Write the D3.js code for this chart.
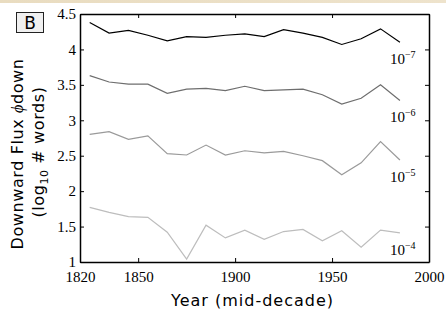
<!DOCTYPE html>
<html>
<head>
<meta charset="utf-8">
<script src="https://cdn.jsdelivr.net/npm/d3@7"></script>
<style>
  html, body { margin: 0; padding: 0; background: #fff; }
  .axis path, .axis line { stroke: #000; }
  .axis text { font-family: "Liberation Serif", serif; font-size: 15px; fill: #000; }
</style>
</head>
<body>
<div id="chart"></div>
<script>
// decade midpoints
var years = [1825, 1835, 1845, 1855, 1865, 1875, 1885, 1895, 1905, 1915, 1925, 1935, 1945, 1955, 1965, 1975, 1985];

// log10 of downward flux for each threshold
var flux7 = [4.38, 4.23, 4.27, 4.20, 4.12, 4.18, 4.17, 4.20, 4.22, 4.18, 4.28, 4.23, 4.17, 4.07, 4.15, 4.29, 4.10];
var flux6 = [3.63, 3.54, 3.51, 3.51, 3.38, 3.44, 3.45, 3.42, 3.48, 3.42, 3.43, 3.44, 3.36, 3.23, 3.31, 3.50, 3.28];
var flux5 = [2.80, 2.84, 2.73, 2.78, 2.53, 2.51, 2.65, 2.51, 2.57, 2.54, 2.56, 2.50, 2.43, 2.23, 2.40, 2.70, 2.44];
var flux4 = [1.77, 1.70, 1.64, 1.63, 1.42, 1.04, 1.52, 1.34, 1.45, 1.32, 1.43, 1.46, 1.30, 1.44, 1.21, 1.45, 1.41];

var seriesExp = ["\u22127", "\u22126", "\u22125", "\u22124"];
var seriesColors = ["#000000", "#6e6e6e", "#9a9a9a", "#bdbdbd"];

var xTicks = [1820, 1850, 1900, 1950, 2000];
var yTicks = [1, 1.5, 2, 2.5, 3, 3.5, 4, 4.5];

var W = 446, H = 320;
var margin = {top: 14, right: 17, bottom: 58, left: 80},
    width = W - margin.left - margin.right,
    height = H - margin.top - margin.bottom;

var svg = d3.select("#chart").append("svg")
    .attr("width", W)
    .attr("height", H);

// beige strip along the top edge
var grad = svg.append("defs").append("linearGradient")
    .attr("id", "strip").attr("x1", 0).attr("x2", 1);
grad.append("stop").attr("offset", "0%").attr("stop-color", "#e9dcc0");
grad.append("stop").attr("offset", "100%").attr("stop-color", "#eee3cc");
svg.append("rect").attr("x", 0).attr("y", 0).attr("width", W).attr("height", 3)
    .attr("fill", "url(#strip)");

var g = svg.append("g")
    .attr("transform", "translate(" + margin.left + "," + margin.top + ")");

var xScale = d3.scaleLinear().domain([1820, 2000]).range([0, width]);
var yScale = d3.scaleLinear().domain([1, 4.5]).range([height, 0]);

var line = d3.line()
    .x(function(d) { return xScale(d.year); })
    .y(function(d) { return yScale(d.value); });

[flux7, flux6, flux5, flux4].forEach(function(vals, i) {
    var data = years.map(function(y, j) { return {year: y, value: vals[j]}; });
    g.append("path")
      .datum(data)
      .attr("fill", "none")
      .attr("stroke", seriesColors[i])
      .attr("stroke-width", 1.2)
      .attr("d", line);

    var last = data[data.length - 1];
    var lab = g.append("text")
      .attr("x", xScale(last.year) - 10)
      .attr("y", yScale(last.value) + 22)
      .style("font-family", "Liberation Serif, serif")
      .style("font-size", "15px")
      .attr("fill", "#000");
    lab.append("tspan").text("10");
    lab.append("tspan").attr("dy", -6).style("font-size", "10px").text(seriesExp[i]);
});

// axes, ticks pointing inward
g.append("g").attr("class", "axis")
    .attr("transform", "translate(0," + height + ")")
    .call(d3.axisBottom(xScale).tickValues(xTicks).tickFormat(d3.format("d"))
        .tickSizeInner(-4).tickSizeOuter(0).tickPadding(9));

g.append("g").attr("class", "axis")
    .call(d3.axisTop(xScale).tickValues(xTicks).tickFormat("")
        .tickSizeInner(-4).tickSizeOuter(0));

g.append("g").attr("class", "axis")
    .call(d3.axisLeft(yScale).tickValues(yTicks).tickFormat(d3.format("~g"))
        .tickSizeInner(-4).tickSizeOuter(0).tickPadding(4));

g.append("g").attr("class", "axis")
    .attr("transform", "translate(" + width + ",0)")
    .call(d3.axisRight(yScale).tickValues(yTicks).tickFormat("")
        .tickSizeInner(-4).tickSizeOuter(0));

g.selectAll(".axis .domain").attr("stroke-width", 1.5);

// axis titles
svg.append("text")
    .attr("x", margin.left + width / 2 - 2)
    .attr("y", 306)
    .attr("text-anchor", "middle")
    .style("font-family", "DejaVu Sans, sans-serif")
    .style("font-size", "16px")
    .style("letter-spacing", "1px")
    .text("Year (mid-decade)");

var yl = svg.append("text")
    .attr("transform", "translate(23," + (margin.top + height / 2 + 16) + ") rotate(-90)")
    .attr("text-anchor", "middle")
    .style("font-family", "DejaVu Sans, sans-serif")
    .style("font-size", "16px")
    .style("letter-spacing", "0.6px");
yl.append("tspan").text("Downward Flux ");
yl.append("tspan").style("font-family", "Liberation Serif, serif").style("font-style", "italic").text("\u03d5");
yl.append("tspan").text("down");

var yl2 = svg.append("text")
    .attr("transform", "translate(44," + (margin.top + height / 2 + 14) + ") rotate(-90)")
    .attr("text-anchor", "middle")
    .style("font-family", "DejaVu Sans, sans-serif")
    .style("font-size", "16px")
    .style("letter-spacing", "0.6px");
yl2.append("tspan").text("(log");
yl2.append("tspan").attr("dy", 4).style("font-size", "11px").text("10");
yl2.append("tspan").attr("dy", -4).text(" # words)");

// panel letter
svg.append("rect")
    .attr("x", 16.5).attr("y", 12.5).attr("width", 27).attr("height", 20)
    .attr("fill", "#f0f0f0").attr("stroke", "#222").attr("stroke-width", 1);
svg.append("text")
    .attr("x", 30).attr("y", 29)
    .attr("text-anchor", "middle")
    .style("font-family", "DejaVu Sans, sans-serif")
    .style("font-size", "17px")
    .text("B");
</script>
</body>
</html>
